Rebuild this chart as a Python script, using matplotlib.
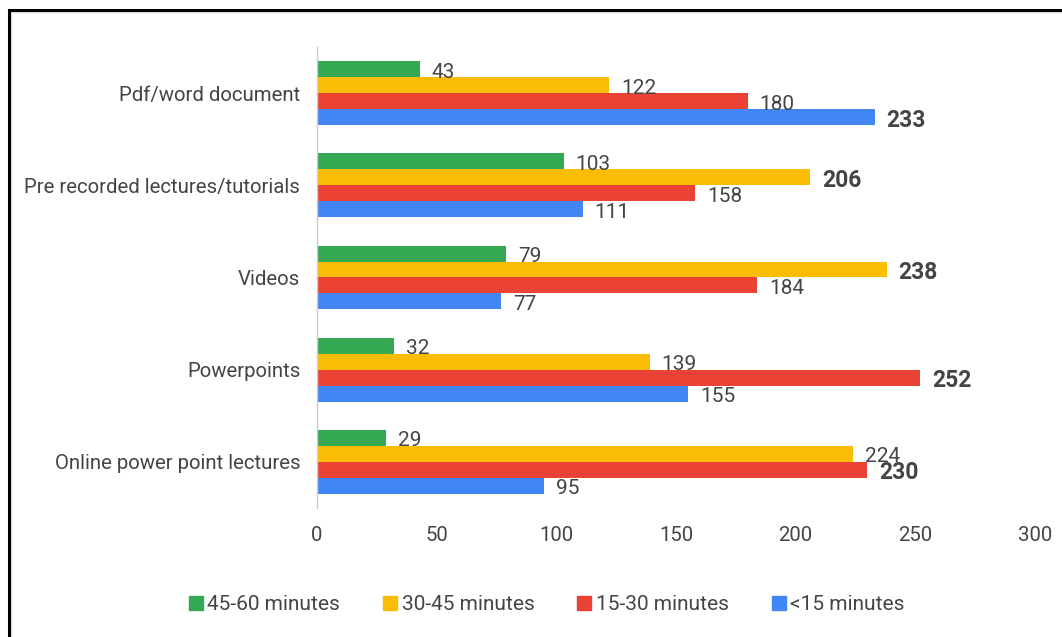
import matplotlib
matplotlib.use("Agg")
import matplotlib.pyplot as plt
from matplotlib.patches import Rectangle
from matplotlib.lines import Line2D
import numpy as np

categories = ["Pdf/word document", "Pre recorded lectures/tutorials", "Videos",
              "Powerpoints", "Online power point lectures"]
series_names = ["45-60 minutes", "30-45 minutes", "15-30 minutes", "<15 minutes"]
v_45_60 = [43, 103, 79, 32, 29]
v_30_45 = [122, 206, 238, 139, 224]
v_15_30 = [180, 158, 184, 252, 230]
v_lt15 = [233, 111, 77, 155, 95]
series_values = [v_45_60, v_30_45, v_15_30, v_lt15]
colors = ["#34A853", "#FBBC04", "#EA4335", "#4285F4"]
xticks = [0, 50, 100, 150, 200, 250, 300]

plt.rcParams["font.family"] = ["Roboto", "DejaVu Sans"]
TXT = "#444444"
FS = 14.7

fig = plt.figure(figsize=(10.62, 6.37), dpi=100)
ax = fig.add_axes([317/1062, 1-508/637, (1035-317)/1062, (508-47)/637])

h = 0.173
y = np.arange(len(categories))
for k, (vals, c) in enumerate(zip(series_values, colors)):
    off = (k - 1.5) * h
    ax.barh(y + off, vals, height=h, color=c, edgecolor="none", label=series_names[k])

for i in range(len(categories)):
    col = [sv[i] for sv in series_values]
    mx = max(col)
    for k, sv in enumerate(series_values):
        v = sv[i]
        bold = v == mx
        ax.annotate(str(v), (v, y[i] + (k - 1.5) * h), xytext=(12, -3),
                    textcoords="offset pixels",
                    va="center", ha="left", color=TXT,
                    fontsize=15 + (1.5 if bold else 0),
                    fontweight="bold" if bold else "normal")

ax.set_xlim(0, 300)
ax.set_ylim(len(categories) - 0.5, -0.5)
ax.set_yticks(y)
ax.set_yticklabels(categories, color=TXT, fontsize=FS)
ax.set_xticks(xticks)
ax.set_xticklabels([str(t) for t in xticks], color=TXT, fontsize=FS)
ax.tick_params(axis="both", length=0)
ax.tick_params(axis="x", pad=13)
ax.tick_params(axis="y", pad=12)
for s in ["top", "right", "bottom"]:
    ax.spines[s].set_visible(False)
ax.spines["left"].set_color("#cccccc")
ax.spines["left"].set_linewidth(1)

handles = [Line2D([0], [0], marker="s", linestyle="none", markersize=9.5,
                  markerfacecolor=c, markeredgecolor=c) for c in colors]
fig.legend(handles, series_names, loc="center", bbox_to_anchor=(545/1062, 1-605/637),
           ncol=4, frameon=False, fontsize=15, labelcolor=TXT, handletextpad=0.05,
           columnspacing=1.9, handlelength=1.0)

# outer frame
fig.patches.append(Rectangle((11/1062, -0.1), 1.2, 1 - 12/637 + 0.1,
                             transform=fig.transFigure, fill=False,
                             edgecolor="#dddddd", linewidth=1))
fig.patches.append(Rectangle((8.5/1062, -0.1), 1.2, 1 - 10/637 + 0.1,
                             transform=fig.transFigure, fill=False,
                             edgecolor="black", linewidth=2.2))

fig.savefig("out.png", dpi=100)
